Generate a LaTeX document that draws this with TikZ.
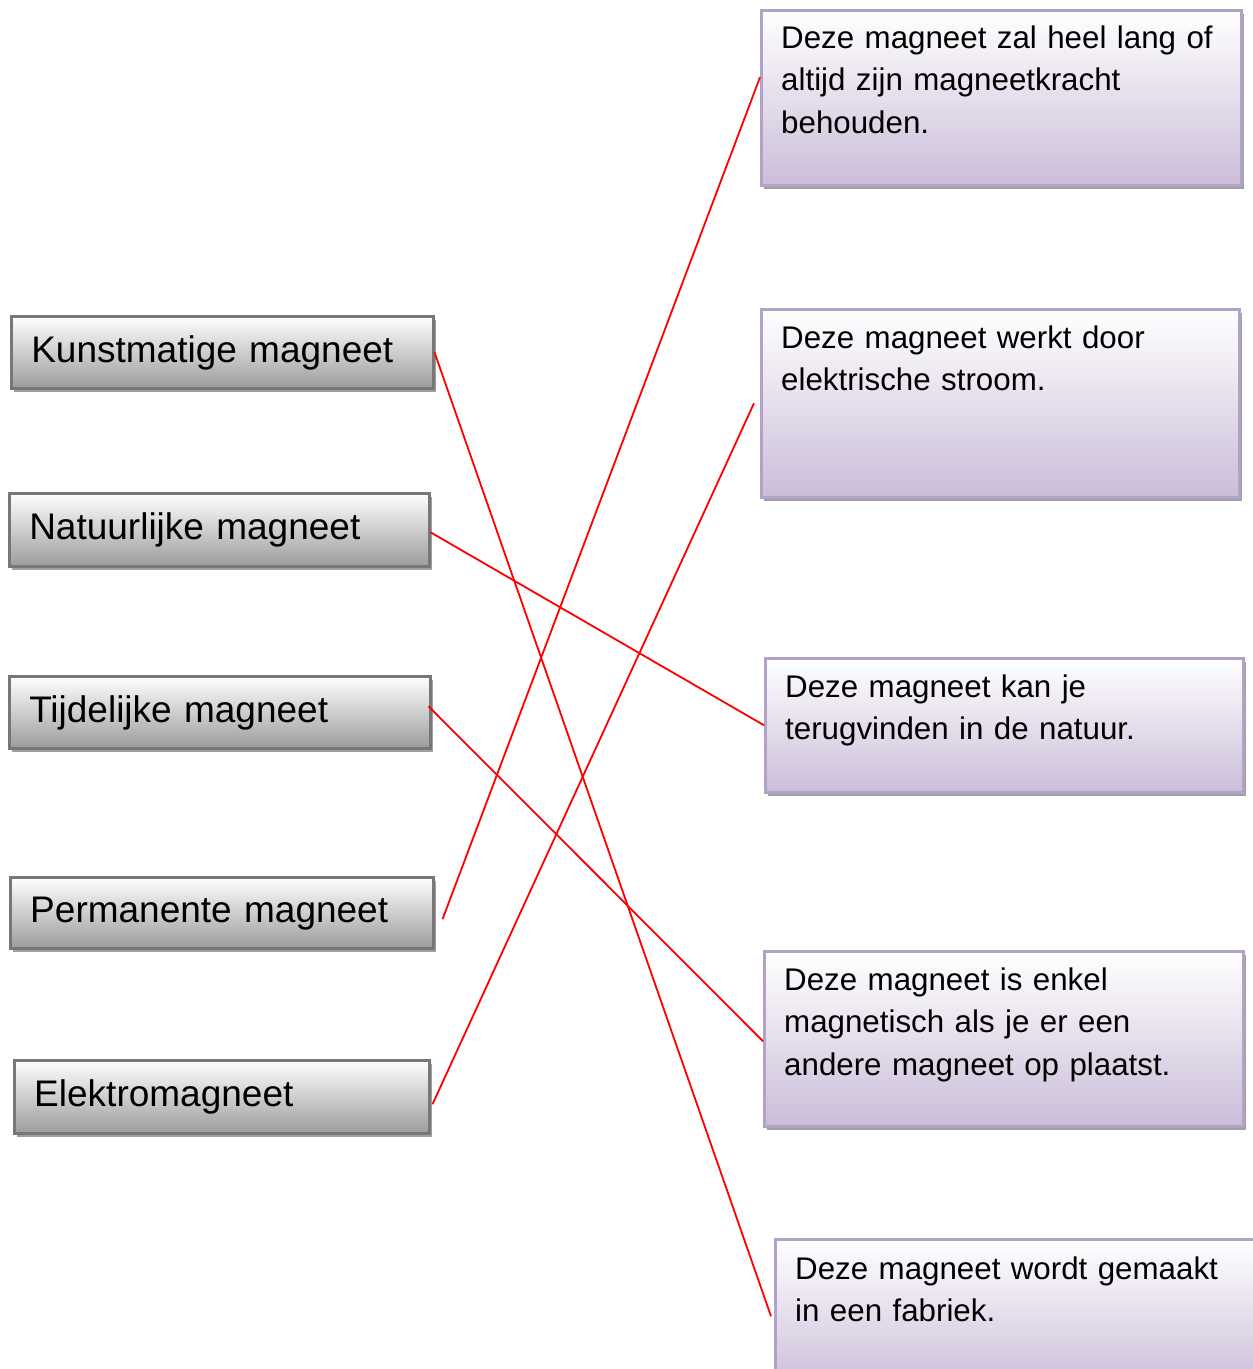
\documentclass[tikz,border=0pt]{standalone}
\usepackage{fontspec}
\setmainfont{Liberation Sans}
\usetikzlibrary{shadows}
\definecolor{lborder}{HTML}{777777}
\definecolor{lbottom}{HTML}{9C9C9C}
\definecolor{rborder}{HTML}{B3A2C7}
\definecolor{rbottom}{HTML}{CBBDD9}
\definecolor{shadowgray}{HTML}{A0A0A0}
\tikzset{
  lbox/.style={draw=lborder, line width=2.5pt, top color=white, bottom color=lbottom,
    anchor=north west, inner xsep=20pt, inner ysep=0pt, align=left,
    text height=28pt, text depth=8pt,
    font=\fontsize{37}{44}\selectfont,
    drop shadow={shadow xshift=3pt, shadow yshift=-3.5pt, fill=shadowgray, opacity=1}},
  rbox/.style={draw=rborder, line width=2.5pt, top color=white, bottom color=rbottom,
    anchor=north west, inner sep=0pt,
    drop shadow={shadow xshift=3pt, shadow yshift=-3.5pt, fill=shadowgray, opacity=1}},
  rtext/.style={anchor=base west, inner sep=0pt, align=left, text width=470pt,
    font=\fontsize{31.3}{42.5}\selectfont},
  link/.style={draw=red, line width=1.8pt}
}
\begin{document}
\begin{tikzpicture}[x=1pt,y=-1pt]
\clip (0,0) rectangle (1253,1369);
\fill[white] (0,0) rectangle (1253,1369);

% left boxes
\node[lbox, text width=382pt, minimum height=72pt] (kunst) at (10,315) {Kunstmatige magneet};
\node[lbox, text width=380pt, minimum height=73pt] (natuur) at (8,492) {Natuurlijke magneet};
\node[lbox, text width=381pt, minimum height=72pt] (tijd) at (8,675) {Tijdelijke magneet};
\node[lbox, text width=383pt, minimum height=71pt] (perm) at (9,876) {Permanente magneet};
\node[lbox, text width=375pt, minimum height=73pt] (elek) at (13,1059) {Elektromagneet};

% right boxes
\node[rbox, minimum width=480pt, minimum height=175pt] (r1) at (760,9) {};
\node[rbox, minimum width=478pt, minimum height=188pt] (r2) at (760,308) {};
\node[rbox, minimum width=478pt, minimum height=134pt] (r3) at (764,657) {};
\node[rbox, minimum width=479pt, minimum height=175pt] (r4) at (763,950) {};
\node[rbox, minimum width=490pt, minimum height=150pt] (r5) at (774,1238) {};

\node[rtext] (t1) at ([xshift=21pt,yshift=-39pt]r1.north west) {Deze magneet zal heel lang of\\altijd zijn magneetkracht\\behouden.};
\node[rtext] (t2) at ([xshift=21pt,yshift=-40pt]r2.north west) {Deze magneet werkt door\\elektrische stroom.};
\node[rtext] (t3) at ([xshift=21pt,yshift=-40pt]r3.north west) {Deze magneet kan je\\terugvinden in de natuur.};
\node[rtext] (t4) at ([xshift=21pt,yshift=-40pt]r4.north west) {Deze magneet is enkel\\magnetisch als je er een\\andere magneet op plaatst.};
\node[rtext] (t5) at ([xshift=21pt,yshift=-41pt]r5.north west) {Deze magneet wordt gemaakt\\in een fabriek.};

% connectors
\draw[link] (kunst.east) -- ([xshift=-3pt,yshift=-2pt]r5.west);
\draw[link] ([yshift=-2.5pt]natuur.east) -- (r3.west);
\draw[link] ([xshift=-3pt,yshift=6pt]tijd.east) -- ([yshift=-2.5pt]r4.west);
\draw[link] ([xshift=8pt,yshift=-6.5pt]perm.east) -- ([yshift=20.5pt]r1.west);
\draw[link] ([xshift=2pt,yshift=-7.5pt]elek.east) -- ([xshift=-6pt]r2.west);
\end{tikzpicture}
\end{document}
